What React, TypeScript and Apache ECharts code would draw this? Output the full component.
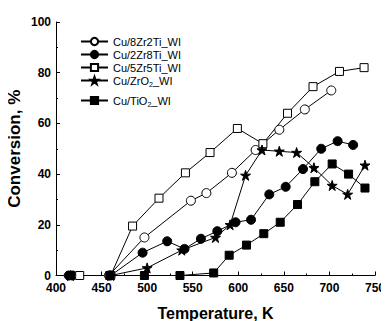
import React, { useEffect, useRef } from "react";
import * as echarts from "echarts";

const names = ["Cu/8Zr2Ti_WI", "Cu/2Zr8Ti_WI", "Cu/5Zr5Ti_WI", "Cu/ZrO2_WI", "Cu/TiO2_WI"];

const t8Zr2Ti = [418, 458, 497, 548, 565, 593, 619, 645, 673, 702];
const c8Zr2Ti = [0, 0, 15, 29.5, 32.5, 40.5, 49.5, 57.5, 65.5, 73];

const t2Zr8Ti = [414, 460, 495, 522, 541, 559, 577, 597, 614, 634, 652, 671, 691, 709, 726];
const c2Zr8Ti = [0, 0, 9, 13.5, 10.5, 14.5, 17.5, 21, 22, 32, 35, 42, 50, 53, 51.5];

const t5Zr5Ti = [426, 460, 484, 513, 542, 569, 599, 627, 654, 682, 711, 738];
const c5Zr5Ti = [0, 0, 19.5, 30.5, 40.5, 48.5, 58, 52, 64, 74.5, 80.5, 82];

const tZrO2 = [416, 460, 500, 538, 575, 591, 608, 626, 645, 664, 683, 703, 720, 739];
const cZrO2 = [0, 0, 3, 10, 15, 20, 39.5, 49.5, 49, 48.5, 42.5, 35.5, 32, 43.5];

const tTiO2 = [416, 459, 497, 536, 573, 590, 609, 628, 646, 665, 684, 703, 721, 739];
const cTiO2 = [0, 0, 0, 0, 1, 8, 12, 16.5, 21, 28, 37, 44, 40, 34.5];

const FONT = "'Liberation Sans', Arial, sans-serif";

function pairs(t: number[], c: number[]) {
  return t.map((x, i) => [x, c[i]]);
}

const starPath =
  "path://M50,0 L61.8,36.2 L100,36.2 L69.1,58.6 L80.9,95.1 L50,72.4 L19.1,95.1 L30.9,58.6 L0,36.2 L38.2,36.2 Z";

export default function App() {
  const ref = useRef<HTMLDivElement>(null);
  useEffect(() => {
    if (!ref.current) return;
    const chart = echarts.init(ref.current, undefined, { renderer: "svg" });
    const mk = (name: string, data: number[][], symbol: string, filled: boolean, size: number) => ({
      name,
      type: "line",
      data,
      symbol,
      symbolSize: size,
      showAllSymbol: true,
      lineStyle: { color: "#000", width: 1 },
      itemStyle: { color: filled ? "#000" : "#fff", borderColor: "#000", borderWidth: 1 },
      emphasis: { disabled: true },
      z: 3,
    });
    const legendBase = {
      orient: "vertical",
      left: 80,
      padding: 0,
      itemWidth: 27,
      itemHeight: 9,
      itemGap: 2,
      textStyle: {
        fontFamily: FONT,
        fontSize: 11,
        color: "#000",
        rich: {
          s: { fontFamily: FONT, fontSize: 7, color: "#000", verticalAlign: "bottom", padding: [8, 0, 0, 0] },
        },
      },
      formatter: (n: string) => n.replace("O2_", "O{s|2}_"),
    };
    chart.setOption({
      animation: false,
      backgroundColor: "#fff",
      grid: { left: 56, right: 14, top: 22, bottom: 45.5, containLabel: false, outerBoundsMode: "none" },
      legend: [
        { ...legendBase, top: 36, data: names.slice(0, 4) },
        { ...legendBase, top: 95, data: names.slice(4) },
      ],
      xAxis: {
        type: "value",
        min: 400,
        max: 750,
        interval: 50,
        name: "Temperature, K",
        nameLocation: "middle",
        nameGap: 29.5,
        nameMoveOverlap: false,
        nameTextStyle: { fontFamily: FONT, fontSize: 16, fontWeight: "bold", color: "#000" },
        axisLine: { lineStyle: { color: "#000", width: 1 } },
        axisTick: { inside: true, length: 4, lineStyle: { color: "#000" } },
        minorTick: { show: true, splitNumber: 2, length: 2, lineStyle: { color: "#000" } },
        axisLabel: { fontFamily: FONT, fontSize: 12, fontWeight: "bold", color: "#000", margin: 7, lineHeight: 11 },
        splitLine: { show: false },
      },
      yAxis: {
        type: "value",
        min: 0,
        max: 100,
        interval: 20,
        name: "Conversion, %",
        nameLocation: "middle",
        nameGap: 33,
        nameMoveOverlap: false,
        nameTextStyle: { fontFamily: FONT, fontSize: 17, fontWeight: "bold", color: "#000" },
        axisLine: { show: true, lineStyle: { color: "#000", width: 1 } },
        axisTick: { show: true, inside: true, length: 4, lineStyle: { color: "#000" } },
        minorTick: { show: true, splitNumber: 2, length: 2, lineStyle: { color: "#000" } },
        axisLabel: { fontFamily: FONT, fontSize: 12, fontWeight: "bold", color: "#000", margin: 5, lineHeight: 10 },
        splitLine: { show: false },
      },
      series: [
        mk(names[0], pairs(t8Zr2Ti, c8Zr2Ti), "circle", false, 9),
        mk(names[1], pairs(t2Zr8Ti, c2Zr8Ti), "circle", true, 9),
        mk(names[2], pairs(t5Zr5Ti, c5Zr5Ti), "rect", false, 8),
        mk(names[3], pairs(tZrO2, cZrO2), starPath, true, 10),
        mk(names[4], pairs(tTiO2, cTiO2), "rect", true, 8),
      ],
    });
    return () => chart.dispose();
  }, []);
  return <div ref={ref} style={{ width: 389, height: 321, marginLeft: -8, marginTop: -8 }} />;
}
